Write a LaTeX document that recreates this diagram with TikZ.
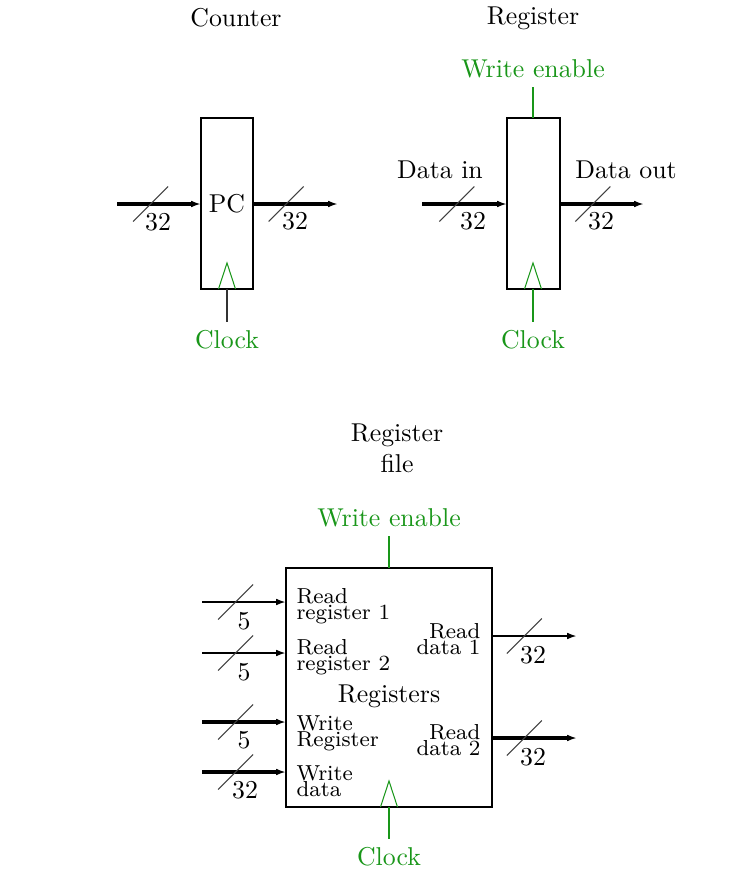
\documentclass[tikz,border=0pt]{standalone}
\usetikzlibrary{arrows.meta,calc}
\definecolor{sig}{RGB}{25,150,25}
\newcommand\busslash[1]{\draw[slashline] ($(#1)+(-17.5,17.5)$) -- ($(#1)+(17.5,-17.5)$);}
\newcommand\clocktri[1]{\draw[clk] ($(#1)+(-8.5,0)$) -- ++(8.5,-26) -- ++(8.5,26);}
\begin{document}
\begin{tikzpicture}[x=0.3876pt,y=-0.3876pt,
  box/.style={draw,thick,inner sep=0pt,outer sep=0pt,font=\fontsize{10}{12}\selectfont},
  bus/.style={-{Latex[length=3.8pt,width=2.6pt]},very thick},
  busthin/.style={-{Latex[length=3.8pt,width=2.6pt]},thick},
  slashline/.style={line width=0.4pt,black!75},
  clk/.style={draw=sig,line width=0.4pt},
  sigline/.style={draw=sig,thick},
  txt/.style={font=\fontsize{10}{12}\selectfont},
  sigtxt/.style={txt,text=sig},
  numtxt/.style={txt,inner sep=0pt},
  port/.style={inner sep=0pt,font=\fontsize{8.4}{6.3}\selectfont}]
\useasboundingbox (0,0) rectangle (747,874);

% ---------- Counter ----------
\node[txt] (tcounter) at (236,18) {Counter};
\node[box,minimum width={52*0.3876pt},minimum height={171*0.3876pt}] (pc) at (227,203.5) {PC};
\coordinate (pcin) at (117,204);
\coordinate (pcout) at (338,204);
\draw[bus] (pcin) -- coordinate[pos=0.4] (pcs1) (pc.west |- pcin);
\draw[bus] (pc.east |- pcout) -- coordinate[pos=0.39] (pcs2) (pcout);
\busslash{pcs1}
\busslash{pcs2}
\node[numtxt] (pcn1) at (158,222) {32};
\node[numtxt] (pcn2) at (295,221) {32};
\clocktri{pc.south}
\node[sigtxt] (pcclk) at (227,340) {Clock};
\draw[line width=0.5pt,black!80] (pc.south) -- (pcclk.north);

% ---------- Register ----------
\node[txt] (treg) at (533,18) {Register};
\node[box,minimum width={53*0.3876pt},minimum height={171*0.3876pt}] (reg) at (533.5,203.5) {};
\node[sigtxt] (regwe) at (533,69) {Write enable};
\draw[sigline] (regwe.south) -- (regwe.south |- reg.north);
\node[txt] (din) at (440,170) {Data in};
\node[txt] (dout) at (626,170) {Data out};
\coordinate (regin) at (422,204);
\coordinate (regout) at (644,204);
\draw[bus] (regin) -- coordinate[pos=0.41] (rs1) (reg.west |- regin);
\draw[bus] (reg.east |- regout) -- coordinate[pos=0.39] (rs2) (regout);
\busslash{rs1}
\busslash{rs2}
\node[numtxt] (rn1) at (473,221) {32};
\node[numtxt] (rn2) at (601,221) {32};
\coordinate (regbot) at (533,289);
\clocktri{regbot}
\node[sigtxt] (regclk) at (533,340) {Clock};
\draw[sigline] (regbot) -- (regclk.north);

% ---------- Register file ----------
\node[txt,align=center] (trf) at (397,448) {Register\\file};
\node[box,minimum width={206*0.3876pt},minimum height={239*0.3876pt}] (rf) at (389,687.5) {};
\node[txt] (rfname) at (389,696) {Registers};
\node[sigtxt] (rfwe) at (389,518) {Write enable};
\draw[sigline] (rfwe.south) -- (rfwe.south |- rf.north);
\clocktri{rf.south}
\node[sigtxt] (rfclk) at (389,857) {Clock};
\draw[sigline] (rf.south) -- (rfclk.north);

\node[port,anchor=west,align=left] (prr1) at (296,606) {Read\\register 1};
\node[port,anchor=west,align=left] (prr2) at (296,657) {Read\\register 2};
\node[port,anchor=west,align=left] (pwr) at (296,733) {Write\\Register};
\node[port,anchor=west,align=left] (pwd) at (296,781.5) {Write\\data};
\node[port,anchor=east,align=right] (prd1) at (481,639) {Read\\data 1};
\node[port,anchor=east,align=right] (prd2) at (481,740) {Read\\data 2};

\coordinate (i1) at (202,602);
\coordinate (i2) at (202,653);
\coordinate (i3) at (202,722);
\coordinate (i4) at (202,772);
\draw[busthin] (i1) -- coordinate[pos=0.4] (fs1) (rf.west |- i1);
\draw[busthin] (i2) -- coordinate[pos=0.4] (fs2) (rf.west |- i2);
\draw[bus] (i3) -- coordinate[pos=0.4] (fs3) (rf.west |- i3);
\draw[bus] (i4) -- coordinate[pos=0.4] (fs4) (rf.west |- i4);
\busslash{fs1}
\busslash{fs2}
\busslash{fs3}
\busslash{fs4}
\node[numtxt] (fn1) at (244,621) {5};
\node[numtxt] (fn2) at (244,672) {5};
\node[numtxt] (fn3) at (244,740) {5};
\node[numtxt] (fn4) at (245,790) {32};

\coordinate (o1) at (577,636);
\coordinate (o2) at (577,738);
\draw[busthin] (rf.east |- o1) -- coordinate[pos=0.38] (fo1) (o1);
\draw[bus] (rf.east |- o2) -- coordinate[pos=0.38] (fo2) (o2);
\busslash{fo1}
\busslash{fo2}
\node[numtxt] (fon1) at (533,655) {32};
\node[numtxt] (fon2) at (533,757) {32};
\end{tikzpicture}
\end{document}
